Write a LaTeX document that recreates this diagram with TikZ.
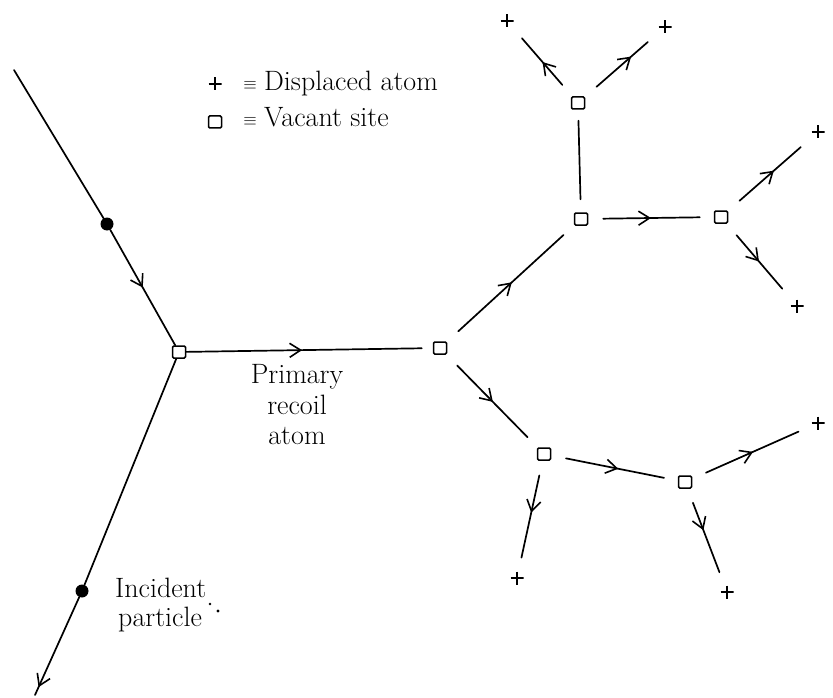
\documentclass[tikz,border=0pt]{standalone}
\usetikzlibrary{arrows.meta,decorations.markings}
\begin{document}
\begin{tikzpicture}[x=1pt,y=-1pt,
  conn/.style={line width=1.7pt,line cap=round},
  vac/.style={draw,line width=1.5pt,minimum width=13pt,minimum height=12pt,inner sep=0pt,rounded corners=1.2pt},
  plusmark/.style={minimum size=13pt,inner sep=0pt,path picture={\draw[line width=1.6pt] (path picture bounding box.north)--(path picture bounding box.south) (path picture bounding box.west)--(path picture bounding box.east);}},
  hit/.style={circle,fill,minimum size=13pt,inner sep=0pt},
  gap/.style={shorten <=15pt, shorten >=14pt},
  midarrow/.style={postaction={decorate},decoration={markings,mark=at position #1 with {\arrow{Straight Barb[length=11pt,width=14pt,line width=1.6pt]}}}},
  midarrow/.default=0.5,
  lbl/.style={font=\fontsize{28}{32}\selectfont,inner sep=0pt},
  eqv/.style={font=\fontsize{16}{16}\selectfont,inner sep=0pt}
]
\useasboundingbox (0,0) rectangle (833,698);

% vacant sites
\node[vac] (v0) at (179,352) {};
\node[vac] (v1) at (440,348) {};
\node[vac] (v2) at (581,219) {};
\node[vac] (v3) at (578,103) {};
\node[vac] (v4) at (721,217) {};
\node[vac] (v5) at (544,454) {};
\node[vac] (v6) at (685,482) {};

% displaced atoms
\node[plusmark] (p1) at (507,21) {};
\node[plusmark] (p2) at (665,27) {};
\node[plusmark] (p3) at (818,132) {};
\node[plusmark] (p4) at (797,306) {};
\node[plusmark] (p5) at (818,423) {};
\node[plusmark] (p6) at (517,578) {};
\node[plusmark] (p7) at (727,592) {};

% incident particle
\coordinate (s) at (14,70);
\coordinate (e) at (35,695);
\node[hit] (d1) at (107,224) {};
\node[hit] (d2) at (82,591) {};

\draw[conn] (s) -- (d1);
\draw[conn,midarrow=0.5] (d1) -- (v0);
\draw[conn] (v0) -- (d2);
\draw[conn,midarrow=0.92] (d2) -- (e);

% cascade
\draw[conn,midarrow=0.47,shorten >=11pt] (v0) -- (v1);
\draw[conn,midarrow=0.51,gap] (v1) -- (v2);
\draw[conn,shorten <=13pt,shorten >=11pt] (v2) -- (v3);
\draw[conn,midarrow=0.5,gap] (v3) -- (p1);
\draw[conn,midarrow=0.63,gap] (v3) -- (p2);
\draw[conn,midarrow=0.5,gap] (v2) -- (v4);
\draw[conn,midarrow=0.55,gap] (v4) -- (p3);
\draw[conn,midarrow=0.5,gap] (v4) -- (p4);
\draw[conn,midarrow=0.51,gap] (v1) -- (v5);
\draw[conn,midarrow=0.53,gap] (v5) -- (v6);
\draw[conn,midarrow=0.47,gap] (v5) -- (p6);
\draw[conn,midarrow=0.51,gap] (v6) -- (p5);
\draw[conn,midarrow=0.43,gap] (v6) -- (p7);

% legend
\node[plusmark] (lp) at (215,84) {};
\node[vac] (lv) at (215,122) {};
\node[eqv] (le1) at (250,85) {$\equiv$};
\node[eqv] (le2) at (250,121) {$\equiv$};
\node[lbl,anchor=base west] (lt1) at (264,91) {Displaced atom};
\node[lbl,anchor=base west] (lt2) at (264,127) {Vacant site};

% labels
\node[lbl,anchor=base] (r1) at (297,383) {Primary};
\node[lbl,anchor=base] (r2) at (297,414) {recoil};
\node[lbl,anchor=base] (r3) at (297,444) {atom};
\node[lbl,anchor=base west] (i1) at (115,597) {Incident};
\node[lbl,anchor=base west] (i2) at (118,626) {particle};
\fill (210,604) circle (1.4pt);
\fill (218,611) circle (1.6pt);
\end{tikzpicture}
\end{document}
